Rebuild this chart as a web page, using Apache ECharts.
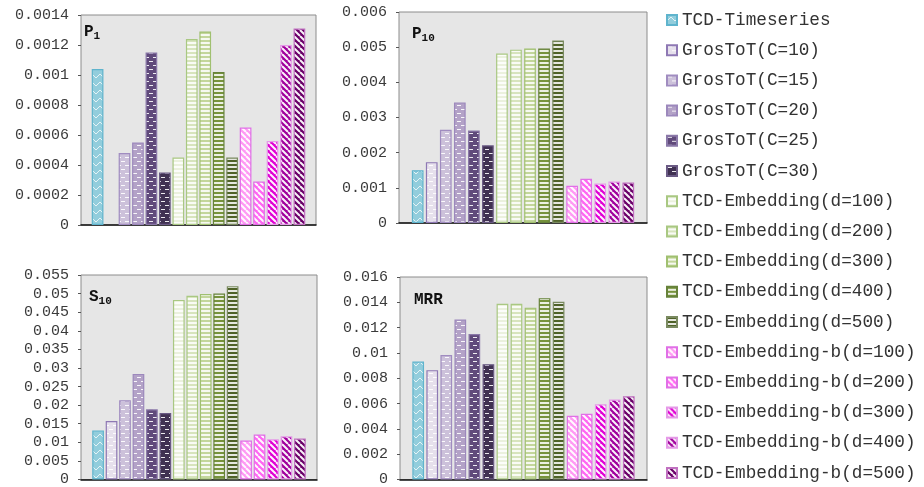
<!DOCTYPE html>
<html>
<head>
<meta charset="utf-8">
<script src="https://cdn.jsdelivr.net/npm/echarts@6/dist/echarts.min.js"></script>
<style>
  html, body { margin: 0; padding: 0; background: #fff; }
  #chart { width: 924px; height: 487px; }
</style>
</head>
<body>
<div id="chart"></div>
<script>
// Method names (one bar per method in every panel)
const methods = [
  'TCD-Timeseries',
  'GrosToT(C=10)', 'GrosToT(C=15)', 'GrosToT(C=20)', 'GrosToT(C=25)', 'GrosToT(C=30)',
  'TCD-Embedding(d=100)', 'TCD-Embedding(d=200)', 'TCD-Embedding(d=300)',
  'TCD-Embedding(d=400)', 'TCD-Embedding(d=500)',
  'TCD-Embedding-b(d=100)', 'TCD-Embedding-b(d=200)', 'TCD-Embedding-b(d=300)',
  'TCD-Embedding-b(d=400)', 'TCD-Embedding-b(d=500)'
];

// Metric values, in the same order as methods (null = no bar)
const p1Values = [0.00104, null, 0.00048, 0.00055, 0.00115, 0.00035,
  0.00045, 0.00124, 0.00129, 0.00102, 0.00045,
  0.00065, 0.00029, 0.00056, 0.00120, 0.00131];
const p10Values = [0.00150, 0.00173, 0.00265, 0.00343, 0.00263, 0.00221,
  0.00482, 0.00493, 0.00496, 0.00496, 0.00519,
  0.00106, 0.00126, 0.00112, 0.00118, 0.00115];
const s10Values = [0.0132, 0.0157, 0.0213, 0.0284, 0.0189, 0.0179,
  0.0483, 0.0494, 0.0499, 0.0500, 0.0520,
  0.0105, 0.0121, 0.0108, 0.0116, 0.0110];
const mrrValues = [0.00932, 0.00864, 0.00984, 0.01264, 0.01149, 0.00911,
  0.01389, 0.01389, 0.01358, 0.01433, 0.01405,
  0.00504, 0.00520, 0.00595, 0.00632, 0.00658];

// Y axis ranges per panel
const p1Axis = { max: 0.0014, interval: 0.0002 };
const p10Axis = { max: 0.006, interval: 0.001 };
const s10Axis = { max: 0.055, interval: 0.005 };
const mrrAxis = { max: 0.016, interval: 0.002 };

// Fill colours, borders and hatch kinds per method
const fills = ['#92CDDC', '#E6E0EC', '#CCC1DA', '#B3A2C7', '#604A7B', '#403152',
  '#EBF1DE', '#D7E4BD', '#C3D69B', '#77933C', '#4F6228',
  '#FF99F4', '#FF66F2', '#E000D4', '#A0009C', '#6A0068'];
const borders = ['#5FB4CD', '#8E78B4', '#A08CC0', '#9C88BC', '#8A78A8', '#6A5A84',
  '#A9C882', '#A9C882', '#A0C070', '#66823A', '#7A8A60',
  '#E070E6', '#E070E6', '#E59AE8', '#E59AE8', '#C070C0'];
const hatches = ['zigzag', 'dash', 'dash', 'dash', 'dash', 'dash',
  'hline', 'hline', 'hline', 'hline', 'hline',
  'diag', 'diag', 'diag', 'diag', 'diag'];

function makePattern(bg, kind) {
  const c = document.createElement('canvas');
  let w = 8, h = 8;
  if (kind === 'hline') { w = 4; h = 4; }
  if (kind === 'diag') { w = 6; h = 6; }
  c.width = w; c.height = h;
  const g = c.getContext('2d');
  g.fillStyle = bg;
  g.fillRect(0, 0, w, h);
  if (kind === 'zigzag') {
    g.strokeStyle = 'rgba(255,255,255,0.75)';
    g.lineWidth = 1;
    g.beginPath();
    g.moveTo(0, 6); g.lineTo(4, 2); g.lineTo(8, 6);
    g.stroke();
  } else if (kind === 'dash') {
    g.fillStyle = 'rgba(255,255,255,0.9)';
    g.fillRect(1, 1, 4, 1);
    g.fillRect(5, 5, 3, 1);
    g.fillRect(0, 5, 1, 1);
  } else if (kind === 'hline') {
    g.fillStyle = 'rgba(255,255,255,0.85)';
    g.fillRect(0, 2, w, 2);
  } else if (kind === 'diag') {
    g.strokeStyle = 'rgba(255,255,255,0.95)';
    g.lineWidth = 2;
    g.beginPath();
    for (let x = -w; x <= w; x += w) {
      g.moveTo(x, 0); g.lineTo(x + w, h);
    }
    g.stroke();
  }
  return { image: c, repeat: 'repeat' };
}

const patterns = fills.map((f, i) => makePattern(f, hatches[i]));

const panels = [
  { values: p1Values, axis: p1Axis, grid: { left: 81, top: 15, width: 235, height: 210 }, barGap: '15%' },
  { values: p10Values, axis: p10Axis, grid: { left: 399, top: 12, width: 248, height: 211 }, barGap: '20%' },
  { values: s10Values, axis: s10Axis, grid: { left: 81, top: 275, width: 236, height: 205 }, barGap: '15%' },
  { values: mrrValues, axis: mrrAxis, grid: { left: 400, top: 277, width: 247, height: 205 }, barGap: '20%' }
];

const monoFont = '"Liberation Mono", "DejaVu Sans Mono", monospace';

const grids = panels.map(p => Object.assign({
  show: true, backgroundColor: '#E6E6E6', borderColor: '#8C8C8C', borderWidth: 1
}, p.grid));

const xAxes = panels.map((p, i) => ({
  type: 'category', gridIndex: i, data: [''],
  axisLine: { show: true, lineStyle: { color: '#111', width: 1.5 } },
  axisTick: { show: false }, axisLabel: { show: false }
}));

const yAxes = panels.map((p, i) => ({
  type: 'value', gridIndex: i, min: 0, max: p.axis.max, interval: p.axis.interval,
  splitLine: { show: false },
  axisLine: { show: false },
  axisTick: { show: true, length: 3, lineStyle: { color: '#555' } },
  axisLabel: {
    fontFamily: monoFont, fontSize: 15, color: '#3A3A3A', margin: 12,
    formatter: v => String(+v.toFixed(6))
  }
}));

const series = [];
panels.forEach((p, gi) => {
  methods.forEach((name, mi) => {
    series.push({
      type: 'bar', name: name, xAxisIndex: gi, yAxisIndex: gi,
      data: [p.values[mi]],
      barWidth: 11.7, barGap: p.barGap,
      itemStyle: { color: patterns[mi], borderColor: borders[mi], borderWidth: 1.2 }
    });
  });
});

const titleRich = {
  b: { fontFamily: monoFont, fontWeight: 'bold', fontSize: 16, color: '#111', lineHeight: 20 },
  s: { fontFamily: monoFont, fontWeight: 'bold', fontSize: 11, color: '#111', lineHeight: 20, padding: [8, 0, 0, 0] }
};
const titles = [
  { text: '{b|P}{s|1}', left: 84, top: 22 },
  { text: '{b|P}{s|10}', left: 412, top: 24 },
  { text: '{b|S}{s|10}', left: 89, top: 287 },
  { text: '{b|MRR}', left: 414, top: 290 }
].map(t => ({ text: t.text, left: t.left, top: t.top, padding: 0, textStyle: { rich: titleRich } }));

const chart = echarts.init(document.getElementById('chart'), null, { renderer: 'canvas' });
chart.setOption({
  animation: false,
  backgroundColor: '#fff',
  title: titles,
  legend: {
    orient: 'vertical', left: 666, top: 11, padding: 0,
    itemWidth: 10, itemHeight: 10, itemGap: 12.2,
    icon: 'rect',
    data: methods,
    textStyle: { fontFamily: monoFont, fontSize: 17.7, color: '#333', lineHeight: 18 }
  },
  grid: grids,
  xAxis: xAxes,
  yAxis: yAxes,
  series: series
});
</script>
</body>
</html>
